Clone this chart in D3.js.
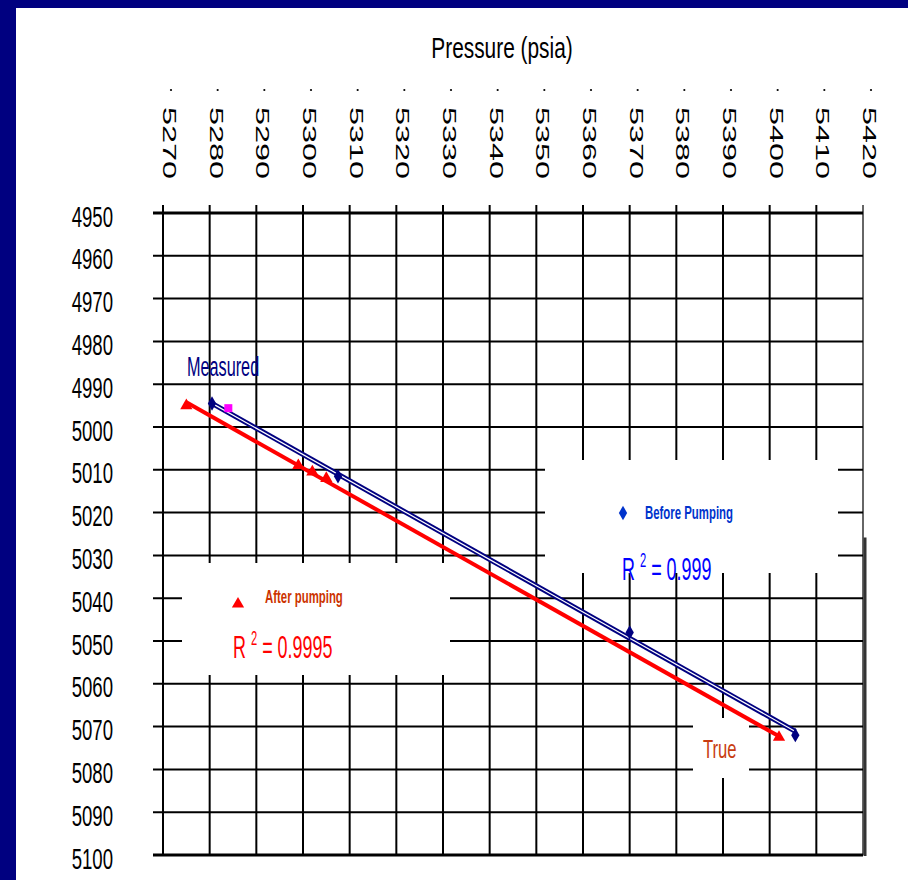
<!DOCTYPE html>
<html>
<head>
<meta charset="utf-8">
<script src="https://cdn.jsdelivr.net/npm/d3@7/dist/d3.min.js"></script>
<style>
  body { margin: 0; background: #fff; }
  text { font-family: "Liberation Sans", Arial, sans-serif; }
</style>
</head>
<body>
<div id="chart"></div>
<script>
// tick values
var xTicks = [5270, 5280, 5290, 5300, 5310, 5320, 5330, 5340, 5350, 5360, 5370, 5380, 5390, 5400, 5410, 5420];
var yTicks = [4950, 4960, 4970, 4980, 4990, 5000, 5010, 5020, 5030, 5040, 5050, 5060, 5070, 5080, 5090, 5100];

// before pumping (pressure, depth)
var beforeP = [5280.5, 5307.5, 5370, 5405.5];
var beforeD = [4994.5, 5011.5, 5048, 5072];

// after pumping (pressure, depth)
var afterP = [5275, 5299, 5302, 5305, 5402];
var afterD = [4995, 5009, 5010.5, 5012, 5072.5];

// odd magenta point
var extraP = [5284];
var extraD = [4995.6];

var r2Before = "0.999";
var r2After = "0.9995";

function chart() {
  var w = 908;
  var h = 880;

  var svg = d3.select("#chart")
              .append("svg")
              .attr("width", w)
              .attr("height", h);

  // navy slide frame
  svg.append("rect").attr("width", w).attr("height", h).attr("fill", "#000080");
  svg.append("rect").attr("x", 16).attr("y", 8).attr("width", w - 16).attr("height", h - 8).attr("fill", "#fff");

  var x = d3.scaleLinear().domain([5270, 5420]).range([163, 863]);
  var y = d3.scaleLinear().domain([4950, 5100]).range([213, 855]);

  // squeezed text helper
  function stext(g, str, tx, ty, size, sx, anchor, fill) {
    return g.append("text")
            .attr("transform", "translate(" + tx + "," + ty + ") scale(" + sx + ",1)")
            .attr("text-anchor", anchor)
            .attr("font-size", size)
            .attr("fill", fill)
            .text(str);
  }

  // title
  stext(svg, "Pressure (psia)", 502, 58, 29, 0.72, "middle", "#000");

  // grid
  var grid = svg.append("g");
  grid.selectAll("line.v")
      .data(xTicks)
      .enter()
      .append("line")
      .attr("x1", function(d) { return x(d); })
      .attr("x2", function(d) { return x(d); })
      .attr("y1", y(4950) - 8)
      .attr("y2", y(5100))
      .attr("stroke", function(d) { return d == 5420 ? "#666" : "#000"; })
      .attr("stroke-width", 2);

  grid.selectAll("line.h")
      .data(yTicks)
      .enter()
      .append("line")
      .attr("x1", x(5270) - 10)
      .attr("x2", x(5420))
      .attr("y1", function(d) { return y(d); })
      .attr("y2", function(d) { return y(d); })
      .attr("stroke", "#000")
      .attr("stroke-width", function(d) { return (d == 4950 || d == 5100) ? 3 : 2; });

  // right edge shadow
  grid.append("line")
      .attr("x1", x(5420) + 2).attr("x2", x(5420) + 2)
      .attr("y1", y(5030) - 18).attr("y2", y(5100) + 1)
      .attr("stroke", "#333").attr("stroke-width", 3);

  // y labels
  var yl = svg.append("g");
  yTicks.forEach(function(d) {
    stext(yl, d, 113, y(d) + 13.5, 30, 0.62, "end", "#000");
  });

  // x labels (rotated, reading downward)
  var xl = svg.append("g");
  xTicks.forEach(function(d) {
    xl.append("circle").attr("cx", x(d) + 8).attr("cy", 90).attr("r", 1.1).attr("fill", "#000");
    xl.append("text")
      .attr("transform", "translate(" + x(d) + ",107) rotate(90) scale(1.8,1)")
      .attr("font-size", 18)
      .attr("fill", "#000")
      .text(d);
  });

  // white legend boxes that hide the grid
  svg.append("rect").attr("x", 545).attr("y", 460).attr("width", 293).attr("height", 113).attr("fill", "#fff");
  svg.append("rect").attr("x", 182).attr("y", 563).attr("width", 268).attr("height", 112).attr("fill", "#fff");
  svg.append("rect").attr("x", 693).attr("y", 718).attr("width", 56).attr("height", 60).attr("fill", "#fff");

  // trend lines from least squares
  function fit(px, py) {
    var mx = d3.mean(px), my = d3.mean(py);
    var sxy = 0, sxx = 0;
    for (var i = 0; i < px.length; i++) {
      sxy += (px[i] - mx) * (py[i] - my);
      sxx += (px[i] - mx) * (px[i] - mx);
    }
    var b = sxy / sxx;
    var a = my - b * mx;
    var x0 = d3.min(px), x1 = d3.max(px);
    return [[x0, a + b * x0], [x1, a + b * x1]];
  }
  var line = d3.line()
               .x(function(d) { return x(d[0]); })
               .y(function(d) { return y(d[1]); });

  svg.append("path").attr("d", line(fit(afterP, afterD)))
     .attr("fill", "none").attr("stroke", "#ff0000").attr("stroke-width", 4);
  svg.append("path").attr("d", line(fit(beforeP, beforeD)))
     .attr("fill", "none").attr("stroke", "#000080").attr("stroke-width", 5);
  svg.append("path").attr("d", line(fit(beforeP, beforeD)))
     .attr("fill", "none").attr("stroke", "#fff").attr("stroke-width", 1.2);

  // markers
  var tri = d3.symbol().type(d3.symbolTriangle).size(65);
  var dia = d3.symbol().type(d3.symbolDiamond).size(60);

  svg.selectAll("path.after")
     .data(afterP)
     .enter()
     .append("path")
     .attr("d", tri)
     .attr("transform", function(d, i) { return "translate(" + x(d) + "," + y(afterD[i]) + ")"; })
     .attr("fill", "#ff0000");

  svg.selectAll("path.before")
     .data(beforeP)
     .enter()
     .append("path")
     .attr("d", dia)
     .attr("transform", function(d, i) { return "translate(" + x(d) + "," + y(beforeD[i]) + ")"; })
     .attr("fill", "#000080");

  svg.selectAll("rect.extra")
     .data(extraP)
     .enter()
     .append("rect")
     .attr("x", function(d) { return x(d) - 4; })
     .attr("y", function(d, i) { return y(extraD[i]) - 4; })
     .attr("width", 8).attr("height", 8)
     .attr("fill", "#ff00ff");

  // annotations
  stext(svg, "Measured", 187, 376, 28, 0.58, "start", "#000080");
  stext(svg, "True", 703, 758, 26, 0.64, "start", "#c83c10");

  // before pumping legend
  svg.append("path").attr("d", dia).attr("transform", "translate(623,513)").attr("fill", "#0033cc");
  stext(svg, "Before Pumping", 645, 519, 19, 0.6, "start", "#0033cc").attr("font-weight", "bold");
  var rb = stext(svg, "R ", 622, 580, 32, 0.56, "start", "#0000ff");
  rb.append("tspan").attr("font-size", 20).attr("dy", -13).text("2");
  rb.append("tspan").attr("dy", 13).text(" = " + r2Before);

  // after pumping legend
  svg.append("path").attr("d", tri).attr("transform", "translate(238,604)").attr("fill", "#ff0000");
  stext(svg, "After pumping", 265, 603, 19, 0.6, "start", "#cc3300").attr("font-weight", "bold");
  var ra = stext(svg, "R ", 233, 658, 32, 0.56, "start", "#ff0000");
  ra.append("tspan").attr("font-size", 20).attr("dy", -13).text("2");
  ra.append("tspan").attr("dy", 13).text(" = " + r2After);
}

window.onload = function() {
  chart();
};
</script>
</body>
</html>
